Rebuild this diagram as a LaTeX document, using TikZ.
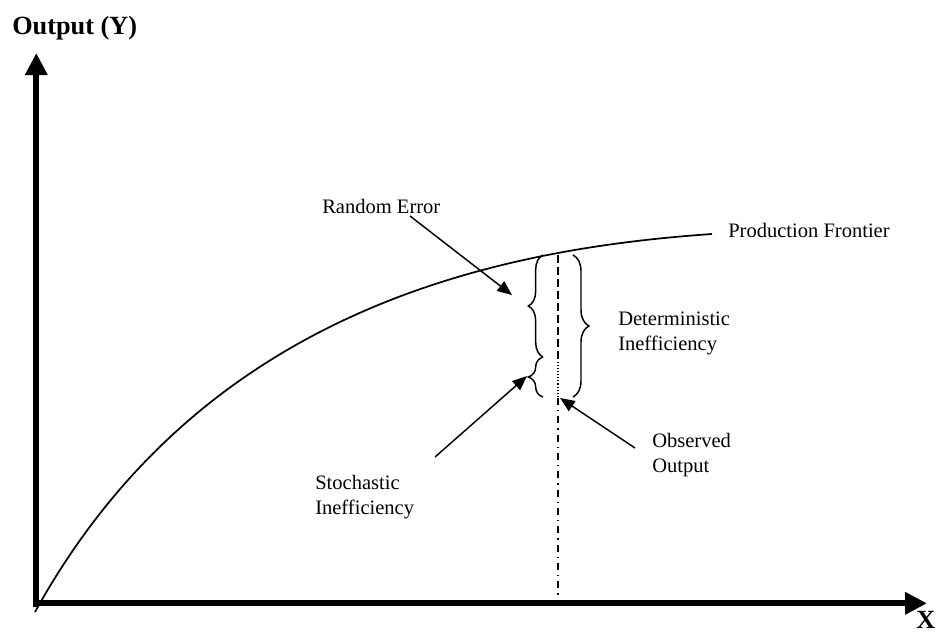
\documentclass[tikz,border=0pt]{standalone}
\usepackage{fontspec}
\setmainfont{Liberation Serif}
\usetikzlibrary{arrows.meta,decorations.pathreplacing}
\begin{document}
\begin{tikzpicture}[x=0.75pt,y=-0.75pt,
  lbl/.style={anchor=base west,inner sep=0pt,align=left,font=\fontsize{15.4}{18.75}\selectfont},
  axlbl/.style={anchor=base west,inner sep=0pt,font=\fontsize{19.7}{22}\selectfont\bfseries},
  axisline/.style={line width=4.5pt,-{Triangle[length=16.5pt,width=16pt]}},
  ptr/.style={line width=1.1pt,-{Triangle[length=11pt,width=9pt]}},
  brc/.style={decorate,decoration={brace,amplitude=#1},line width=1.1pt},
  frontier/.style={line width=1.3pt},
]
\useasboundingbox (0,0) rectangle (939,633);
% axes
\coordinate (O) at (36.3,606.7);
\coordinate (Ytip) at (36.3,53);
\coordinate (Xs) at (33,603.3);
\coordinate (Xtip) at (927,603.3);
\draw[axisline] (O) -- (Ytip);
\draw[axisline] (Xs) -- (Xtip);
% frontier
\coordinate (F0) at (35,612);
\coordinate (F1) at (712,234);
\draw[frontier] (F0) .. controls (198,317) and (480,250) .. (F1);
% vertical line
\coordinate (vtop) at (558,255);
\coordinate (vm1) at (558,362);
\coordinate (vm2) at (558,398);
\coordinate (vbot) at (558,604);
\draw[line width=1.1pt,dash pattern=on 6pt off 3pt] (vtop) -- (vm1);
\draw[line width=0.8pt,dash pattern=on 0.8pt off 1.5pt] (vm1) -- (vm2);
\draw[line width=1.1pt,dash pattern=on 5.25pt off 3.75pt on 1pt off 3.75pt] (vm2) -- (vbot);
% braces
\coordinate (b1a) at (543,357);
\coordinate (b1b) at (543,255);
\coordinate (b2a) at (543,397);
\coordinate (b3a) at (573,255);
\coordinate (b3b) at (573,397);
\draw[brc=11pt] (b1a) -- (b1b);
\draw[brc=11pt] (b2a) -- (b1a);
\draw[brc=12pt] (b3a) -- (b3b);
% labels (multi-line nodes: base = baseline of last line)
\node[lbl] (re) at (322,213) {Random Error};
\node[lbl] (pf) at (728,237) {Production Frontier};
\node[lbl] (di) at (618,350) {Deterministic\\Inefficiency};
\node[lbl] (si) at (315,514) {Stochastic\\Inefficiency};
\node[lbl] (oo) at (652,472) {Observed\\Output};
\node[axlbl] (yl) at (12,34.3) {Output (Y)};
\node[axlbl] (xl) at (916,628) {X};
% pointers
\coordinate (reS) at (410,216);
\coordinate (reT) at (512,295);
\coordinate (siS) at (435,457);
\coordinate (siT) at (527,376);
\coordinate (ooS) at (635,448);
\coordinate (ooT) at (560,398);
\draw[ptr] (reS) -- (reT);
\draw[ptr] (siS) -- (siT);
\draw[ptr] (ooS) -- (ooT);
\end{tikzpicture}
\end{document}
